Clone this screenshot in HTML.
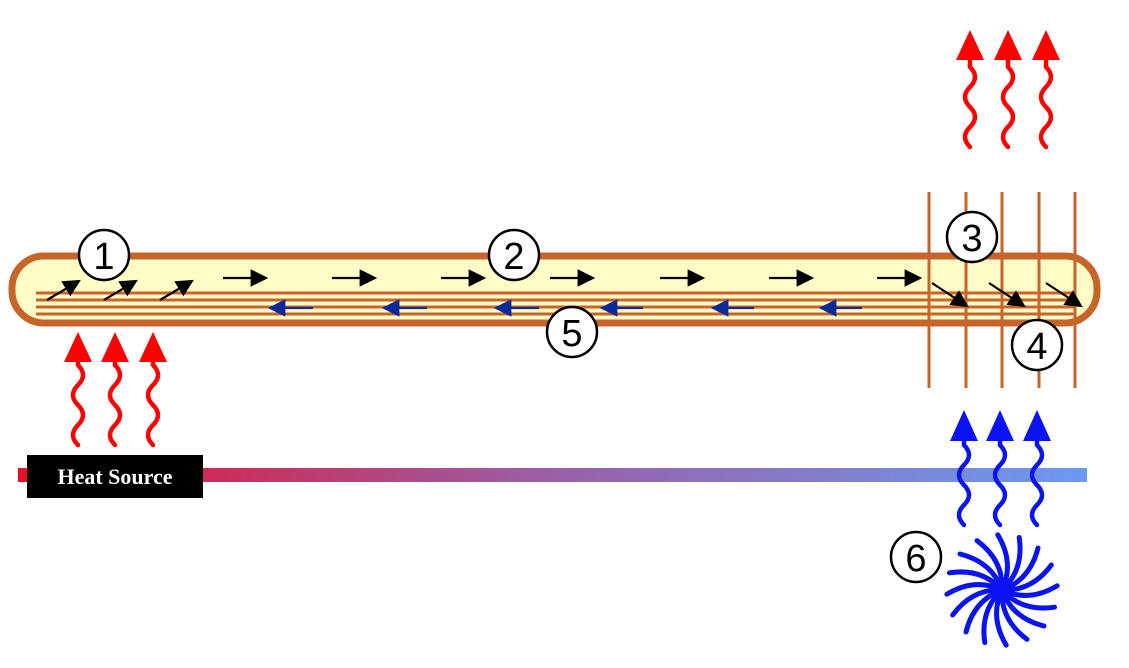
<!DOCTYPE html>
<html><head><meta charset="utf-8"><style>
html,body{margin:0;padding:0;background:#fff;width:1129px;height:668px;overflow:hidden}
svg{display:block}
</style></head><body>
<svg width="1129" height="668" viewBox="0 0 1129 668" xmlns="http://www.w3.org/2000/svg">
<defs>
<linearGradient id="g" x1="0" x2="1" y1="0" y2="0">
<stop offset="0" stop-color="#e8102a"/><stop offset="0.5" stop-color="#9a60a8"/><stop offset="1" stop-color="#6a9af0"/>
</linearGradient>
<marker id="ak" markerWidth="8" markerHeight="8" refX="7" refY="4" orient="auto" markerUnits="strokeWidth"><path d="M0,0 L8,4 L0,8 z" fill="#000"/></marker>
<marker id="ab" markerWidth="8" markerHeight="8" refX="7" refY="4" orient="auto" markerUnits="strokeWidth"><path d="M0,0 L8,4 L0,8 z" fill="#0a2a9a"/></marker>
</defs>
<rect x="12" y="256" width="1085" height="67" rx="32" fill="#fffcc8" stroke="#c8642a" stroke-width="7"/>
<g stroke="#c8642a" stroke-width="3">
<line x1="36" y1="293" x2="1076" y2="293"/><line x1="36" y1="300" x2="1076" y2="300"/>
<line x1="36" y1="307" x2="1076" y2="307"/><line x1="36" y1="314" x2="1076" y2="314"/>
</g>
<g stroke="#c8642a" stroke-width="3">
<line x1="929" y1="192" x2="929" y2="388"/><line x1="966" y1="192" x2="966" y2="388"/>
<line x1="1002" y1="192" x2="1002" y2="388"/><line x1="1039" y1="192" x2="1039" y2="388"/>
<line x1="1075" y1="192" x2="1075" y2="388"/>
</g>
<g stroke="#000" stroke-width="2.2" fill="none" marker-end="url(#ak)">
<line x1="47" y1="300" x2="79" y2="281"/><line x1="104" y1="300" x2="136" y2="281"/><line x1="160" y1="300" x2="192" y2="281"/>
<line x1="223" y1="278" x2="266" y2="278"/><line x1="332" y1="278" x2="375" y2="278"/><line x1="441" y1="278" x2="484" y2="278"/>
<line x1="550" y1="278" x2="593" y2="278"/><line x1="660" y1="278" x2="703" y2="278"/><line x1="769" y1="278" x2="812" y2="278"/>
<line x1="877" y1="278" x2="920" y2="278"/>
<line x1="932" y1="283" x2="967" y2="306"/><line x1="989" y1="283" x2="1024" y2="306"/><line x1="1046" y1="283" x2="1081" y2="306"/>
</g>
<g stroke="#0a2a9a" stroke-width="2.2" fill="none" marker-end="url(#ab)">
<line x1="313" y1="308" x2="270" y2="308"/><line x1="427" y1="308" x2="384" y2="308"/><line x1="539" y1="308" x2="496" y2="308"/>
<line x1="643" y1="308" x2="602" y2="308"/><line x1="754" y1="308" x2="713" y2="308"/><line x1="862" y1="308" x2="821" y2="308"/>
</g>
<g fill="#fff" stroke="#000" stroke-width="2.5">
<circle cx="104" cy="255" r="25"/><circle cx="514" cy="255" r="25"/><circle cx="972" cy="237" r="25"/>
<circle cx="1037" cy="345" r="25"/><circle cx="572" cy="332" r="25"/><circle cx="916" cy="557" r="25"/>
</g>
<g font-family="Liberation Sans, sans-serif" font-size="38" text-anchor="middle" fill="#000">
<text x="104" y="269">1</text><text x="514" y="269">2</text><text x="972" y="251">3</text>
<text x="1037" y="359">4</text><text x="572" y="346">5</text><text x="916" y="571">6</text>
</g>
<rect x="18" y="468" width="1069" height="14" fill="url(#g)"/>
<rect x="27" y="455" width="176" height="43" fill="#000"/>
<text x="115" y="484" font-family="Liberation Serif, serif" font-weight="bold" font-size="22" fill="#fff" text-anchor="middle">Heat Source</text>
<g fill="none" stroke-width="4.5" stroke-linecap="round">
<g stroke="#f00">
<path d="M78,445 q-10,-10 0,-20 t0,-20 t0,-20 t0,-20 v-4"/>
<path d="M115,445 q-10,-10 0,-20 t0,-20 t0,-20 t0,-20 v-4"/>
<path d="M153,445 q-10,-10 0,-20 t0,-20 t0,-20 t0,-20 v-4"/>
<path d="M970,147 q-10,-10 0,-20 t0,-20 t0,-20 t0,-20 v-7"/>
<path d="M1008,147 q-10,-10 0,-20 t0,-20 t0,-20 t0,-20 v-7"/>
<path d="M1046,147 q-10,-10 0,-20 t0,-20 t0,-20 t0,-20 v-7"/>
</g>
<g stroke="#0a14f0">
<path d="M964,525 q-10,-10 0,-20 t0,-20 t0,-20 t0,-20 v-5"/>
<path d="M1000,525 q-10,-10 0,-20 t0,-20 t0,-20 t0,-20 v-5"/>
<path d="M1037,525 q-10,-10 0,-20 t0,-20 t0,-20 t0,-20 v-5"/>
</g>
</g>
<g fill="#f00">
<path d="M78,332 L64,362 L92,362z"/><path d="M115,332 L101,362 L129,362z"/><path d="M153,332 L139,362 L167,362z"/>
<path d="M970,30 L956,60 L984,60z"/><path d="M1008,30 L994,60 L1022,60z"/><path d="M1046,30 L1032,60 L1060,60z"/>
</g>
<g fill="#0a14f0">
<path d="M964,410 L950,441 L978,441z"/><path d="M1000,410 L986,441 L1014,441z"/><path d="M1037,410 L1023,441 L1051,441z"/>
</g>
<g stroke="#0a14f0" stroke-width="5" fill="none" stroke-linecap="round" transform="translate(1002,590)">
<path id="arm" d="M0,0 Q28,-10 36,-42"/>
<use href="#arm" transform="rotate(22.5)"/><use href="#arm" transform="rotate(45)"/><use href="#arm" transform="rotate(67.5)"/>
<use href="#arm" transform="rotate(90)"/><use href="#arm" transform="rotate(112.5)"/><use href="#arm" transform="rotate(135)"/>
<use href="#arm" transform="rotate(157.5)"/><use href="#arm" transform="rotate(180)"/><use href="#arm" transform="rotate(202.5)"/>
<use href="#arm" transform="rotate(225)"/><use href="#arm" transform="rotate(247.5)"/><use href="#arm" transform="rotate(270)"/>
<use href="#arm" transform="rotate(292.5)"/><use href="#arm" transform="rotate(315)"/><use href="#arm" transform="rotate(337.5)"/>
</g>
<circle cx="1002" cy="590" r="9" fill="#0a14f0"/>
</svg>
</body></html>
